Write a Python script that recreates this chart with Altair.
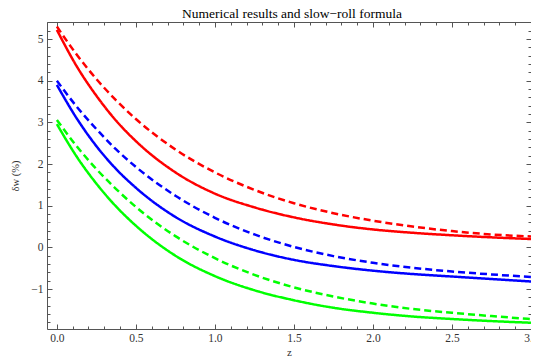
import altair as alt
import pandas as pd

# ---- data ----
z = [0, 0.125, 0.25, 0.375, 0.5, 0.75, 1.0, 1.25, 1.5, 1.75, 2.0, 2.25, 2.5, 2.75, 3.0]
red_solid = [5.22, 4.35, 3.64, 3.04, 2.55, 1.80, 1.29, 0.96, 0.72, 0.55, 0.43, 0.35, 0.29, 0.24, 0.20]
red_dashed = [5.30, 4.63, 4.04, 3.53, 3.08, 2.35, 1.80, 1.38, 1.06, 0.82, 0.64, 0.50, 0.39, 0.31, 0.26]
blue_solid = [3.90, 3.10, 2.43, 1.88, 1.43, 0.73, 0.26, -0.07, -0.30, -0.45, -0.56, -0.64, -0.70, -0.76, -0.82]
blue_dashed = [4.00, 3.38, 2.84, 2.35, 1.93, 1.24, 0.71, 0.31, 0.01, -0.21, -0.37, -0.49, -0.58, -0.65, -0.71]
green_solid = [2.96, 2.18, 1.53, 0.98, 0.52, -0.20, -0.69, -1.03, -1.27, -1.45, -1.57, -1.66, -1.72, -1.77, -1.81]
green_dashed = [3.06, 2.43, 1.88, 1.40, 0.97, 0.27, -0.26, -0.66, -0.96, -1.18, -1.35, -1.48, -1.57, -1.65, -1.72]

x_major = [0.0, 0.5, 1.0, 1.5, 2.0, 2.5, 3.0]
x_minor = [round(0.1 * i, 1) for i in range(0, 31)]
y_major = [-1, 0, 1, 2, 3, 4, 5]
y_minor = [round(-1.8 + 0.2 * i, 1) for i in range(0, 37)]

x_domain = [-0.0625, 3.0]
y_domain = [-1.96, 5.41]

series = {
    "red_solid": ("red", "solid", red_solid),
    "red_dashed": ("red", "dashed", red_dashed),
    "blue_solid": ("blue", "solid", blue_solid),
    "blue_dashed": ("blue", "dashed", blue_dashed),
    "green_solid": ("green", "solid", green_solid),
    "green_dashed": ("green", "dashed", green_dashed),
}
rows = []
for name, (col, sty, vals) in series.items():
    for zi, v in zip(z, vals):
        rows.append({"z": zi, "v": v, "name": name, "col": col, "sty": sty})
df = pd.DataFrame(rows)

FONT = "Liberation Serif, Times New Roman, serif"
FRAME = "#555555"

xs = alt.Scale(domain=x_domain, nice=False, zero=False)
ys = alt.Scale(domain=y_domain, nice=False, zero=False)

base = alt.Chart(df)

lines = base.mark_line(strokeWidth=2.5, interpolate="monotone", clip=True).encode(
    x=alt.X("z:Q", scale=xs, axis=alt.Axis(
        orient="bottom", values=x_major, format=".1f", ticks=False, grid=False,
        labelFlush=False, labelOverlap=False,
        domainColor=FRAME, domainWidth=1, labelFont=FONT, labelFontSize=11.5,
        labelColor="#333333", labelPadding=3, title="z", titleFont=FONT,
        titleFontSize=11, titleFontWeight="normal", titleColor="#333333",
        titlePadding=3)),
    y=alt.Y("v:Q", scale=ys, axis=alt.Axis(
        orient="left", values=y_major, format="d", ticks=False, grid=False,
        labelFlush=False, labelOverlap=False,
        domainColor=FRAME, domainWidth=1, labelFont=FONT, labelFontSize=11.5,
        labelColor="#333333", labelPadding=4, title="δw (%)", titleFont=FONT,
        titleFontSize=10.5, titleFontWeight="normal", titleColor="#333333",
        titlePadding=10)),
    color=alt.Color("col:N", scale=alt.Scale(domain=["red", "blue", "green"],
                                             range=["#ff0000", "#0000ff", "#00ff00"]), legend=None),
    strokeDash=alt.StrokeDash("sty:N", scale=alt.Scale(domain=["solid", "dashed"],
                                                       range=[[1, 0], [7, 4]]), legend=None),
    detail="name:N",
)


def tick_layer(xorient, yorient, xvals, yvals, size, domain=False):
    common = dict(labels=False, grid=False, title=None, domain=domain,
                  domainColor=FRAME, domainWidth=1, tickColor=FRAME, tickWidth=1)
    if domain:
        xa = alt.Axis(orient=xorient, ticks=False, **common)
        ya = alt.Axis(orient=yorient, ticks=False, **common)
    else:
        xa = alt.Axis(orient=xorient, values=xvals, tickSize=size, offset=-size, **common)
        ya = alt.Axis(orient=yorient, values=yvals, tickSize=size, offset=-size, **common)
    return base.mark_line(opacity=0).encode(
        x=alt.X("z:Q", scale=xs, axis=xa),
        y=alt.Y("v:Q", scale=ys, axis=ya),
        detail="name:N",
    )


layers = [
    lines,
    tick_layer("top", "right", None, None, 0, domain=True),
    tick_layer("bottom", "left", x_major, y_major, 5),
    tick_layer("bottom", "left", x_minor, y_minor, 3),
    tick_layer("top", "right", x_major, y_major, 5),
    tick_layer("top", "right", x_minor, y_minor, 3),
]

chart = alt.layer(*layers).resolve_scale(x="independent", y="independent").properties(
    width=484, height=307,
    title=alt.TitleParams("Numerical results and slow−roll formula", font=FONT,
                          fontSize=13.5, fontWeight="normal", color="#000000",
                          anchor="middle", frame="group", offset=1, dx=3),
    autosize=alt.AutoSizeParams(type="none"),
    padding={"left": 39, "top": 14, "right": 0, "bottom": 34},
).configure_view(stroke=None).configure(background="white")

chart.save("out.html", embed_options={"renderer": "svg", "actions": False})
